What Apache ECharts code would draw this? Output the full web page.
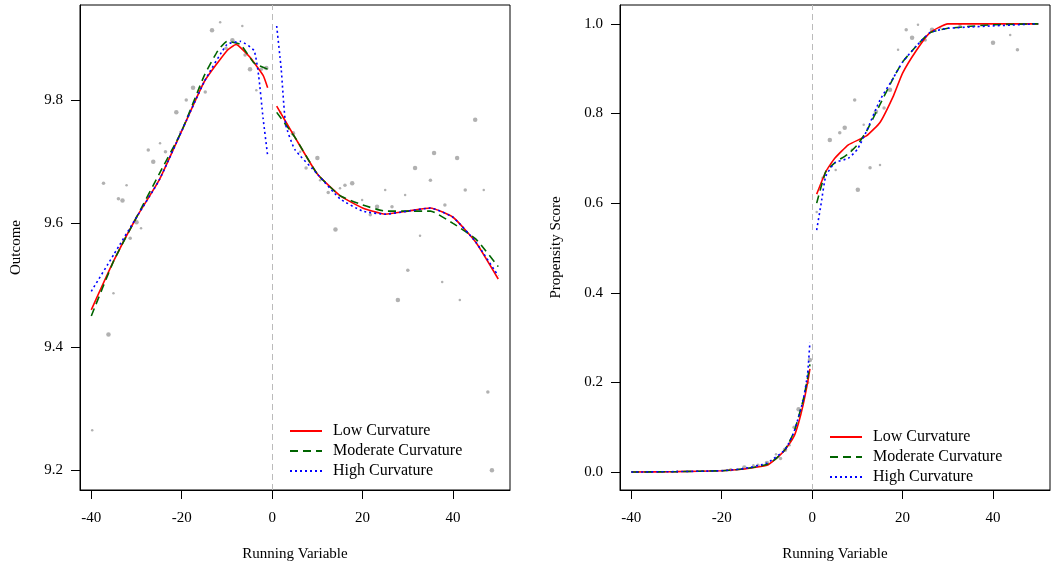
<!DOCTYPE html>
<html><head><meta charset="utf-8">
<script src="https://cdn.jsdelivr.net/npm/echarts@6/dist/echarts.min.js"></script>
<style>body{margin:0}#c{width:1051px;height:568px}</style></head>
<body><div id="c"></div>
<script>
// left panel: outcome
var outLow = [[-40,9.46],[-35,9.54],[-30,9.61],[-25,9.67],[-20,9.75],[-15,9.83],[-10,9.88],[-8,9.89],[-5,9.87],[-2,9.84],[-1,9.82],[0,null],
  [1,9.79],[5,9.74],[10,9.68],[15,9.645],[20,9.625],[25,9.615],[30,9.62],[35,9.625],[40,9.61],[45,9.57],[50,9.51]];
var outMod = [[-40,9.45],[-35,9.54],[-30,9.61],[-25,9.68],[-20,9.75],[-15,9.84],[-12,9.88],[-10,9.895],[-7,9.89],[-4,9.86],[-1,9.85],[0,null],
  [1,9.78],[5,9.74],[10,9.68],[15,9.645],[20,9.63],[25,9.62],[30,9.62],[35,9.62],[40,9.6],[45,9.575],[50,9.53]];
var outHigh = [[-40,9.49],[-35,9.55],[-30,9.61],[-25,9.67],[-20,9.75],[-15,9.83],[-10,9.89],[-7,9.895],[-4,9.88],[-3,9.84],[-2,9.77],[-1,9.71],[0,null],
  [1,9.92],[2,9.85],[3,9.76],[5,9.72],[10,9.68],[15,9.64],[20,9.62],[25,9.615],[30,9.62],[35,9.625],[40,9.61],[45,9.57],[50,9.515]];
var outPts = [[-39.8,9.265],[-37.3,9.665],[-36.2,9.42],[-35.1,9.487],[-34,9.64],[-33.1,9.637],[-32.2,9.662],[-31.4,9.576],[-30,9.602],[-29,9.592],
  [-27.4,9.719],[-26.3,9.7],[-24.8,9.73],[-23.6,9.716],[-21.2,9.78],[-20.3,9.748],[-19,9.8],[-17.5,9.82],[-16,9.82],[-14.8,9.813],[-13.3,9.913],
  [-11.5,9.926],[-10.2,9.884],[-8.8,9.897],[-6.6,9.92],[-6,9.873],[-4.9,9.85],[-3.5,9.816],[-2.4,9.85],[-1.3,9.852],
  [1.8,9.78],[3.1,9.76],[4.6,9.746],[6.2,9.716],[7.5,9.69],[10,9.706],[10.6,9.67],[12.4,9.65],[14,9.59],[15,9.657],[16.1,9.662],[17.7,9.665],
  [19.9,9.638],[21.7,9.614],[23.2,9.627],[25,9.654],[26.5,9.627],[27.8,9.476],[29.4,9.646],[30,9.524],[31.6,9.69],[32.7,9.58],[35,9.67],
  [35.8,9.714],[37.6,9.505],[38.2,9.63],[40.9,9.706],[41.5,9.476],[42.7,9.654],[44.9,9.768],[46.8,9.654],[47.7,9.327],[48.6,9.2]];
// right panel: propensity score
var psLow = [[-40,0],[-30,0.001],[-20,0.003],[-15,0.007],[-10,0.015],[-8,0.03],[-6,0.05],[-4,0.08],[-3,0.11],[-2,0.15],[-1,0.2],[-0.5,0.23],[0,null],
  [1,0.62],[3,0.67],[5,0.7],[8,0.73],[12,0.75],[15,0.78],[18,0.84],[20,0.89],[23,0.94],[26,0.98],[30,1.0],[50,1.0]];
var psMod = [[-40,0],[-30,0.001],[-20,0.003],[-15,0.007],[-10,0.017],[-8,0.03],[-6,0.05],[-4,0.09],[-2,0.16],[-1,0.21],[-0.5,0.24],[0,null],
  [1,0.6],[3,0.67],[5,0.69],[8,0.71],[10,0.73],[12,0.76],[15,0.82],[18,0.88],[20,0.915],[23,0.95],[26,0.98],[30,0.99],[40,0.998],[50,1.0]];
var psHigh = [[-40,0],[-30,0.001],[-20,0.003],[-15,0.008],[-10,0.02],[-6,0.05],[-4,0.09],[-2,0.16],[-1,0.22],[-0.5,0.29],[0,null],
  [1,0.54],[2,0.6],[3,0.66],[5,0.69],[8,0.7],[10,0.72],[12,0.76],[15,0.83],[18,0.88],[20,0.915],[23,0.95],[26,0.98],[30,0.99],[50,1.0]];
var psPts = [[-20,0.003],[-18,0.005],[-15,0.01],[-13,0.015],[-12,0.015],[-10,0.02],[-8,0.04],[-7,0.03],[-6,0.05],[-5,0.06],[-4,0.1],[-3,0.14],[-2,0.16],[-1,0.2],[-0.5,0.25],
  [1,0.58],[2.4,0.656],[3.9,0.741],[5.2,0.674],[6.1,0.757],[7.2,0.768],[8.8,0.719],[9.4,0.83],[10.1,0.63],[11.4,0.775],[12.8,0.679],[14.1,0.804],
  [15,0.685],[15.9,0.812],[17.2,0.853],[19,0.942],[20.8,0.987],[22.1,0.969],[23.4,0.998],[25,0.964],[26.5,0.987],[28.3,0.991],[32.7,0.998],
  [40,0.958],[43.8,0.975],[45.4,0.942]];
var names = ['Low Curvature','Moderate Curvature','High Curvature'];
var colors = ['#ff0000','#006400','#0000ff'];
var types = ['solid',[8,5],[2,3]];

var font = 'Liberation Serif';
var chart = echarts.init(document.getElementById('c'));
function xAx(i){return {gridIndex:i,type:'value',min:-42.5,max:52.6,
  axisLabel:{color:'#000',fontSize:15,fontFamily:font,margin:21,customValues:[-40,-20,0,20,40]},
  axisTick:{customValues:[-40,-20,0,20,40],length:9,lineStyle:{color:'#000'}},
  axisLine:{onZero:false,lineStyle:{color:'#000'}},splitLine:{show:false},
  name:'Running Variable',nameLocation:'middle',nameGap:57,nameTextStyle:{color:'#000',fontSize:15,fontFamily:font}};}
function yAx(i,min,max,vals,name){return {gridIndex:i,type:'value',min:min,max:max,
  axisLabel:{color:'#000',fontSize:15,fontFamily:font,margin:17,customValues:vals,formatter:function(v){return v.toFixed(1);}},
  axisTick:{customValues:vals,length:9,lineStyle:{color:'#000'}},
  axisLine:{onZero:false,lineStyle:{color:'#000'}},splitLine:{show:false},
  name:name,nameLocation:'middle',nameGap:56,nameTextStyle:{color:'#000',fontSize:15,fontFamily:font}};}
var series = [];
function addPanel(i, pts, curves){
  series.push({type:'scatter',xAxisIndex:i,yAxisIndex:i,data:pts,symbolSize:function(v,p){return 2.5+(p.dataIndex*7%3)*1;},
    itemStyle:{color:'#9e9e9e'},silent:true,
    markLine:{silent:true,symbol:'none',label:{show:false},lineStyle:{color:'#bbbbbb',type:[6,4],width:1},data:[{xAxis:0}]}});
  curves.forEach(function(d,k){
    series.push({type:'line',name:names[k],xAxisIndex:i,yAxisIndex:i,data:d,symbol:'none',connectNulls:false,smooth:0.15,
      lineStyle:{color:colors[k],width:1.6,type:types[k]},itemStyle:{color:colors[k]}});
  });
}
addPanel(0,outPts,[outLow,outMod,outHigh]);
addPanel(1,psPts,[psLow,psMod,psHigh]);
var legText = {fontSize:16,fontFamily:font,color:'#000',padding:[0,0,0,6]};
function leg(l,t){return {data:names,orient:'vertical',left:l,top:t,itemWidth:32,itemHeight:12,itemGap:4,
  textStyle:legText,itemStyle:{opacity:0}};}
chart.setOption({
  animation:false,backgroundColor:'#fff',
  grid:[{left:80,top:5,width:430,height:485,show:true,borderColor:'#000',borderWidth:1,outerBoundsMode:'none'},
        {left:620,top:5,width:430,height:485,show:true,borderColor:'#000',borderWidth:1,outerBoundsMode:'none'}],
  xAxis:[xAx(0),xAx(1)],
  yAxis:[yAx(0,9.168,9.954,[9.2,9.4,9.6,9.8],'Outcome'),
         yAx(1,-0.04,1.042,[0,0.2,0.4,0.6,0.8,1],'Propensity Score')],
  legend:[leg(284,418),leg(824,424)],
  series:series
});
</script></body></html>
